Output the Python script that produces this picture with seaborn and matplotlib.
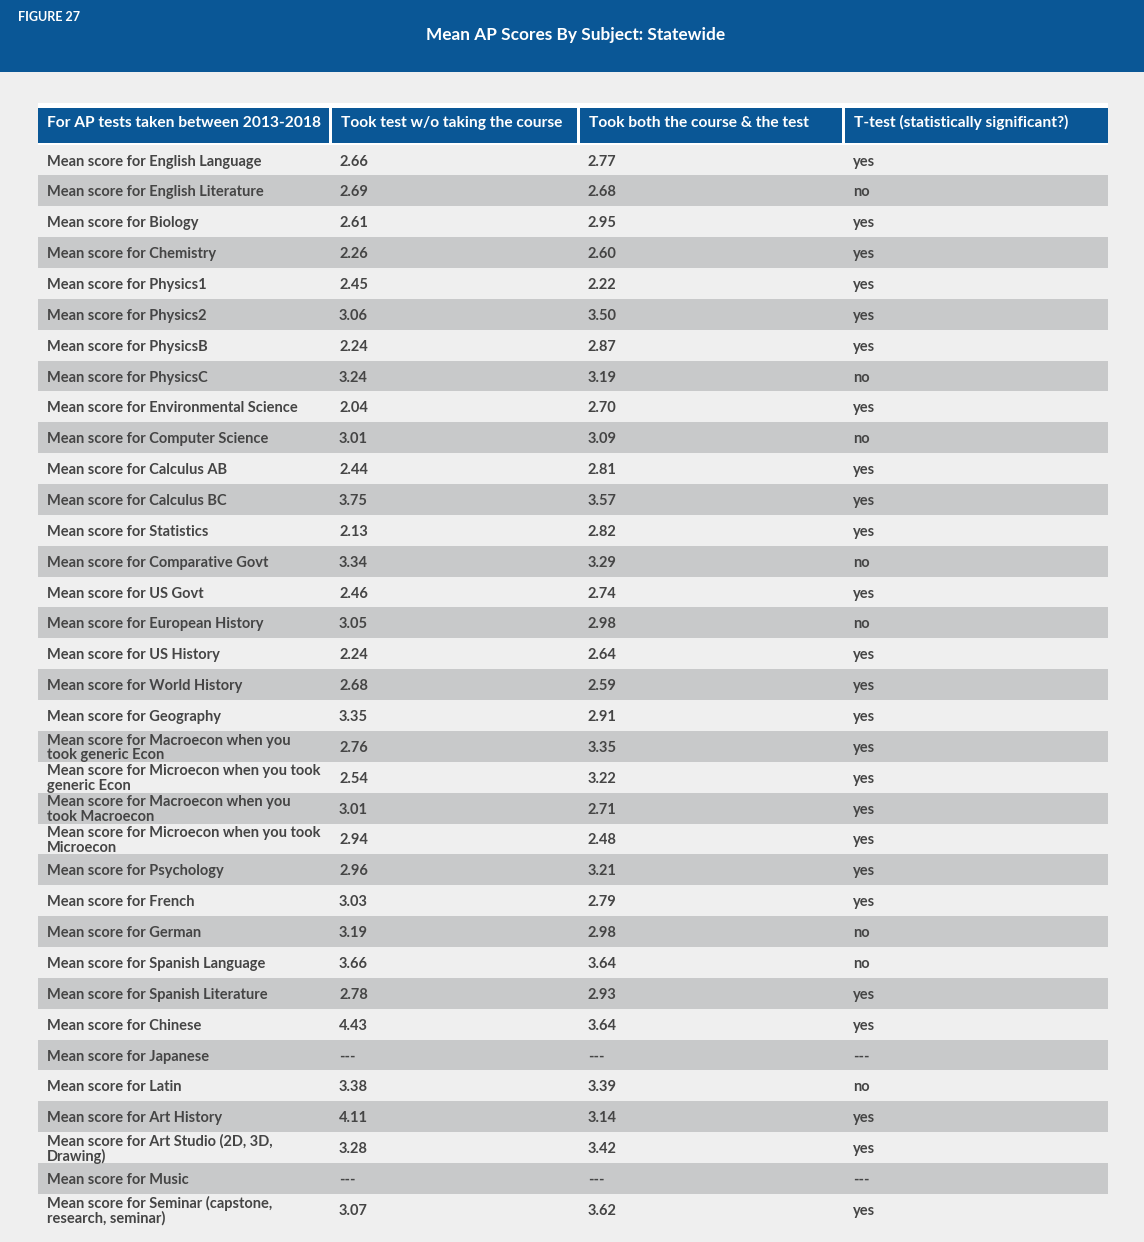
import numpy as np
import matplotlib
matplotlib.use("Agg")
import matplotlib.pyplot as plt
from matplotlib.colors import ListedColormap
import seaborn as sns

# data
subjects = [
    "Mean score for English Language", "Mean score for English Literature",
    "Mean score for Biology", "Mean score for Chemistry",
    "Mean score for Physics1", "Mean score for Physics2",
    "Mean score for PhysicsB", "Mean score for PhysicsC",
    "Mean score for Environmental Science", "Mean score for Computer Science",
    "Mean score for Calculus AB", "Mean score for Calculus BC",
    "Mean score for Statistics", "Mean score for Comparative Govt",
    "Mean score for US Govt", "Mean score for European History",
    "Mean score for US History", "Mean score for World History",
    "Mean score for Geography",
    "Mean score for Macroecon when you\ntook generic Econ",
    "Mean score for Microecon when you took\ngeneric Econ",
    "Mean score for Macroecon when you\ntook Macroecon",
    "Mean score for Microecon when you took\nMicroecon",
    "Mean score for Psychology", "Mean score for French",
    "Mean score for German", "Mean score for Spanish Language",
    "Mean score for Spanish Literature", "Mean score for Chinese",
    "Mean score for Japanese", "Mean score for Latin",
    "Mean score for Art History", "Mean score for Art Studio (2D, 3D,\nDrawing)",
    "Mean score for Music", "Mean score for Seminar (capstone,\nresearch, seminar)",
]
no_course = ["2.66", "2.69", "2.61", "2.26", "2.45", "3.06", "2.24", "3.24", "2.04",
             "3.01", "2.44", "3.75", "2.13", "3.34", "2.46", "3.05", "2.24", "2.68",
             "3.35", "2.76", "2.54", "3.01", "2.94", "2.96", "3.03", "3.19", "3.66",
             "2.78", "4.43", "---", "3.38", "4.11", "3.28", "---", "3.07"]
with_course = ["2.77", "2.68", "2.95", "2.60", "2.22", "3.50", "2.87", "3.19", "2.70",
               "3.09", "2.81", "3.57", "2.82", "3.29", "2.74", "2.98", "2.64", "2.59",
               "2.91", "3.35", "3.22", "2.71", "2.48", "3.21", "2.79", "2.98", "3.64",
               "2.93", "3.64", "---", "3.39", "3.14", "3.42", "---", "3.62"]
ttest = ["yes", "no", "yes", "yes", "yes", "yes", "yes", "no", "yes", "no", "yes", "yes",
         "yes", "no", "yes", "no", "yes", "yes", "yes", "yes", "yes", "yes", "yes", "yes",
         "yes", "no", "no", "yes", "yes", "---", "no", "yes", "yes", "---", "yes"]
headers = ["For AP tests taken between 2013-2018", "Took test w/o taking the course",
           "Took both the course & the test", "T-test (statistically significant?)"]

W, H = 1144, 1242
BLUE = "#0a5796"
BG = "#efefef"
SHADE = "#c8c9ca"
TXT = "#454545"


def box(l, t, r, b):
    return [l / W, 1 - b / H, (r - l) / W, (b - t) / H]


sns.set_theme(style="white")
plt.rcParams["font.family"] = ["Lato", "DejaVu Sans"]

fig = plt.figure(figsize=(W / 100, H / 100), dpi=100, facecolor=BG)

# banner
ban = fig.add_axes(box(0, 0, W, 72))
ban.set_facecolor(BLUE)
ban.set_xticks([]); ban.set_yticks([])
for s in ban.spines.values():
    s.set_visible(False)
fig.text(18 / W, 1 - 17 / H, "FIGURE 27", color="white", fontsize=9, fontweight="bold",
         va="center", ha="left")
fig.text(576 / W, 1 - 35 / H, "Mean AP Scores By Subject: Statewide", color="white",
         fontsize=12.4, fontweight="bold", va="center", ha="center")

# header
col_l = [0, 294, 542, 807]
col_r = [291, 539, 804, 1070]
hx = fig.add_axes(box(38, 103, 1108, 145))
hx.set_facecolor("white")
hx.bar(col_l, 0.83, width=[r - l for l, r in zip(col_l, col_r)], bottom=0.12,
       align="edge", color=BLUE, linewidth=0)
hx.set_xlim(0, 1070); hx.set_ylim(1, 0)
hx.set_xticks([]); hx.set_yticks([])
for s in hx.spines.values():
    s.set_visible(False)
for l, h in zip(col_l, headers):
    hx.text(l + 9, 0.47, h, color="white", fontsize=11.2, fontweight="bold",
            va="center", ha="left")

# body
n = len(subjects)
shade = (np.arange(n) % 2).reshape(-1, 1)
ax = fig.add_axes(box(38, 144.6, 1108, 144.6 + 30.86 * n))
sns.heatmap(shade, ax=ax, cmap=ListedColormap([BG, SHADE]), cbar=False,
            xticklabels=False, yticklabels=False)
tx = [9 / 1070, 301 / 1070, 550 / 1070, 815 / 1070]
for i in range(n):
    row = [subjects[i], no_course[i], with_course[i], ttest[i]]
    for x, s in zip(tx, row):
        ax.text(x, i + 0.55, s, color=TXT, fontsize=10.5, fontweight="bold",
                va="center", ha="left", linespacing=1.05)

fig.savefig("out.png", dpi=100, facecolor=BG)
